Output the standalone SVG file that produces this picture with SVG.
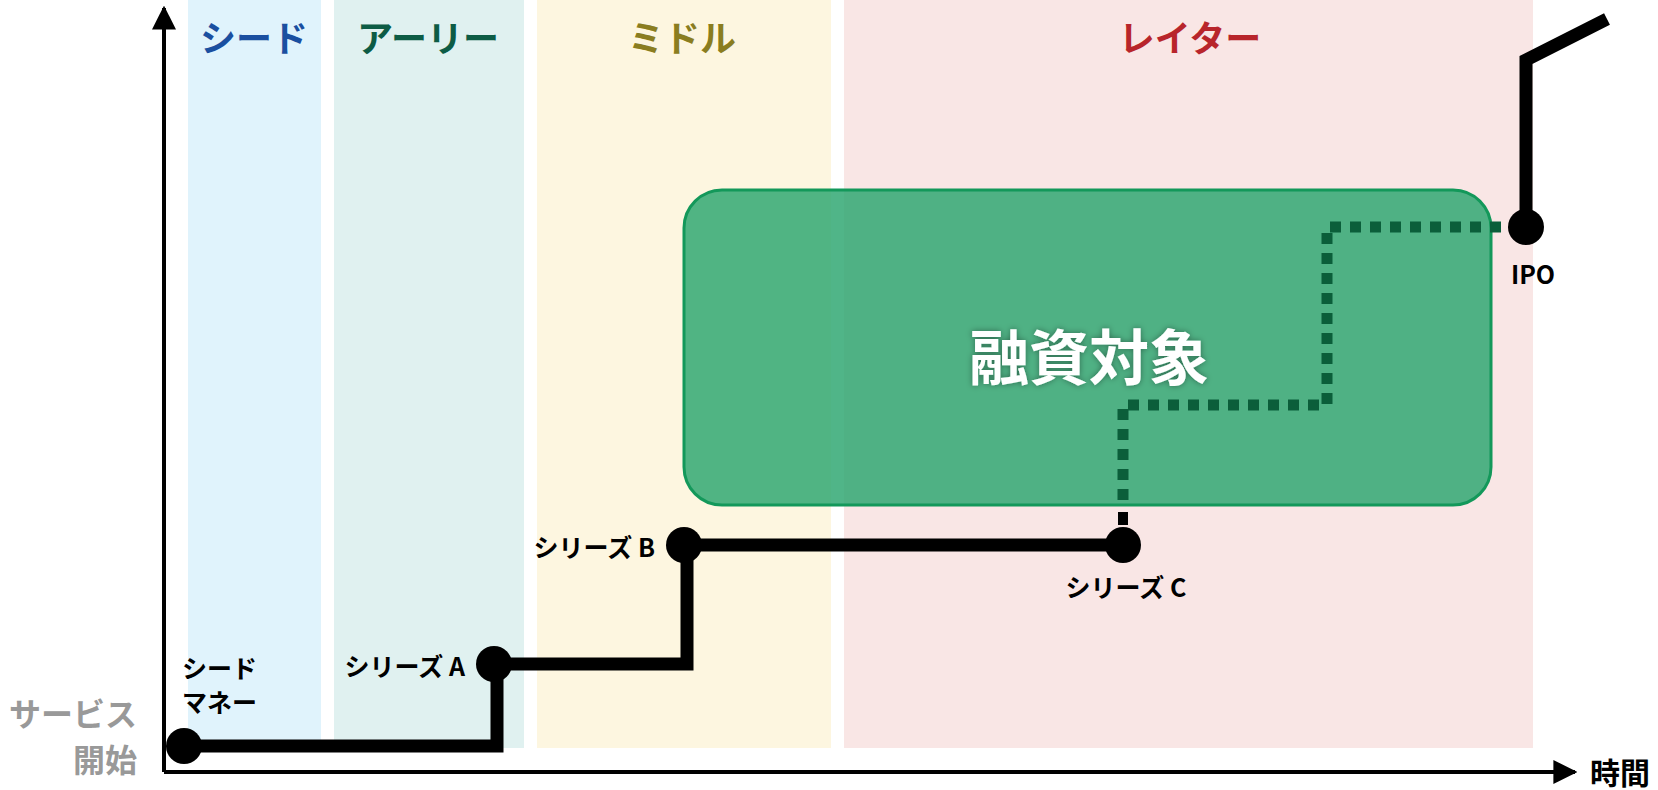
<svg xmlns="http://www.w3.org/2000/svg" width="1658" height="790" viewBox="0 0 1658 790">
<style>
text{font-family:"Noto Sans CJK JP","Noto Sans",sans-serif;font-weight:bold}
.t{font-size:36px}
.l{font-size:25px;fill:#000}
.k{fill:none;stroke:#000;stroke-width:13}
</style>
<defs>
<marker id="ar" viewBox="0 0 10 10" refX="9" refY="5" markerWidth="6" markerHeight="6" markerUnits="strokeWidth" orient="auto"><path d="M0,0L10,5L0,10z" fill="#000"/></marker>
<filter id="sh"><feDropShadow dx="0" dy="0" stdDeviation="3" flood-color="#000" flood-opacity="0.4"/></filter>
</defs>
<g id="bands">
<rect x="188" y="0" width="133" height="748" fill="#e0f3fc"/>
<rect x="334" y="0" width="190" height="748" fill="#e0f1f0"/>
<rect x="537" y="0" width="294" height="748" fill="#fdf6e0"/>
<rect x="844" y="0" width="689" height="748" fill="#f9e6e5"/>
<text class="t" x="254" y="52" text-anchor="middle" fill="#1a4fa0">シード</text>
<text class="t" x="428" y="52" text-anchor="middle" fill="#0d5c45">アーリー</text>
<text class="t" x="682" y="52" text-anchor="middle" fill="#8a7d20">ミドル</text>
<text class="t" x="1190" y="52" text-anchor="middle" fill="#b8252b">レイター</text>
</g>
<g id="target">
<rect x="684" y="190" width="807" height="315" rx="38" fill="#2aa56e" fill-opacity="0.82" stroke="#13985a" stroke-width="3"/>
<text x="1089" y="380" text-anchor="middle" font-size="60" fill="#fff" filter="url(#sh)">融資対象</text>
</g>
<g id="connectors">
<line x1="164" y1="772" x2="164" y2="8" stroke="#000" stroke-width="4" marker-end="url(#ar)"/>
<line x1="164" y1="772" x2="1575" y2="772" stroke="#000" stroke-width="4" marker-end="url(#ar)"/>
<polyline class="k" points="184,746 497,746 497,664 687,664 687,545 1123,545"/>
<line x1="1123" y1="512" x2="1123" y2="525" stroke="#000" stroke-width="10"/>
<polyline points="1123,500 1123,405 1327,405 1327,227 1515,227" fill="none" stroke="#0b5e3a" stroke-width="11" stroke-dasharray="11 9"/>
<polyline class="k" points="1526,227 1526,60 1607,19"/>
</g>
<g id="dots" fill="#000">
<circle cx="184" cy="746" r="18"/>
<circle cx="494" cy="664" r="18"/>
<circle cx="684" cy="545" r="18"/>
<circle cx="1123" cy="545" r="18"/>
<circle cx="1526" cy="227" r="18"/>
</g>
<g id="labels">
<text class="l" x="182" y="678">シード</text>
<text class="l" x="182" y="712">マネー</text>
<text class="l" x="465" y="676" text-anchor="end">シリーズ A</text>
<text class="l" x="655" y="557" text-anchor="end">シリーズ B</text>
<text class="l" x="1126" y="597" text-anchor="middle">シリーズ C</text>
<text class="l" x="1533" y="284" text-anchor="middle">IPO</text>
<text x="137" y="726" text-anchor="end" font-size="32" fill="#999">サービス</text>
<text x="137" y="772" text-anchor="end" font-size="32" fill="#999">開始</text>
<text x="1590" y="784" font-size="30" fill="#000">時間</text>
</g>
</svg>
